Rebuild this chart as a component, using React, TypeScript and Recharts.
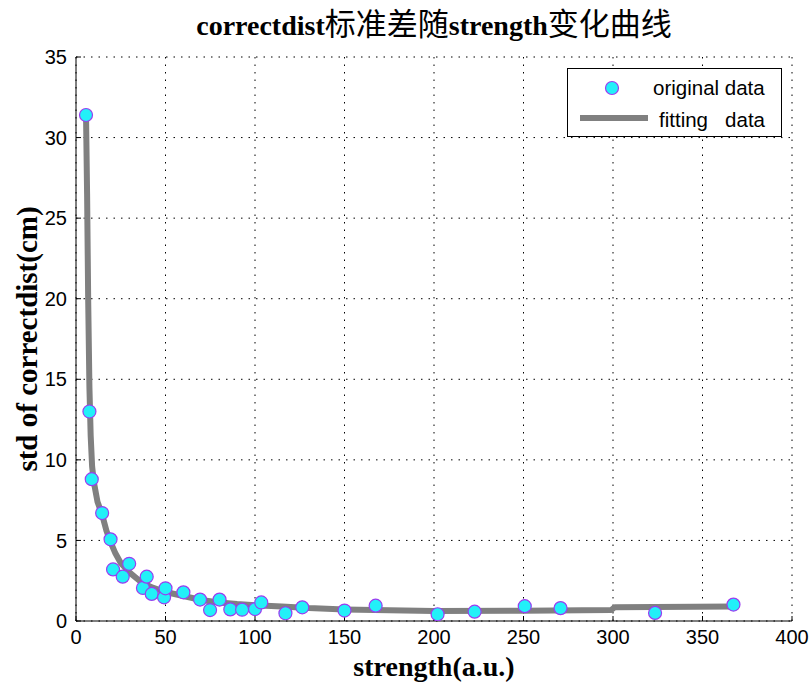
import React from 'react';
import {
  ComposedChart,
  Line,
  Scatter,
  XAxis,
  YAxis,
  CartesianGrid,
  Legend,
  Label,
} from 'recharts';

// original data points (strength, std)
const origStrength = [
  5.6, 7.5, 8.8, 14.6, 19.3, 20.7, 26.1, 29.7, 37.4, 39.5, 42.3, 49.2, 50.0, 60.0, 69.3, 74.9,
  80.2, 86.2, 92.8, 100.0, 103.5, 117.0, 126.4, 150.0, 167.4, 202.0, 222.7, 250.7, 270.7, 323.5, 367.3,
];
const origStd = [
  31.4, 13.0, 8.8, 6.7, 5.07, 3.2, 2.75, 3.55, 2.05, 2.75, 1.68, 1.47, 2.03, 1.78, 1.33, 0.68,
  1.33, 0.72, 0.7, 0.74, 1.15, 0.48, 0.85, 0.65, 0.95, 0.42, 0.58, 0.92, 0.8, 0.5, 1.02,
];

// fitted curve (strength, std)
const fitStrength = [
  5.6, 6.2, 6.8, 7.5, 8.2, 9, 10, 12, 14.6, 17, 19.3, 22, 25, 30, 36, 42, 50, 60, 70, 80, 90,
  100, 115, 130, 150, 175, 200, 250, 299, 301, 367.3,
];
const fitStd = [
  31.4, 26.5, 20, 14.5, 11.5, 9.6, 8.6, 7.4, 6.6, 5.6, 4.9, 4.2, 3.6, 3.0, 2.45, 2.1, 1.8, 1.55,
  1.3, 1.15, 1.05, 0.98, 0.9, 0.8, 0.72, 0.66, 0.62, 0.64, 0.68, 0.86, 0.9,
];

const xTicks = [0, 50, 100, 150, 200, 250, 300, 350, 400];
const yTicks = [0, 5, 10, 15, 20, 25, 30, 35];

const titleParts = [
  { text: 'correctdist', cjk: false },
  { text: '标准差随', cjk: true },
  { text: 'strength', cjk: false },
  { text: '变化曲线', cjk: true },
];
const xLabel = 'strength(a.u.)';
const yLabel = 'std of correctdist(cm)';
const legendOriginal = 'original data';
const legendFitting = 'fitting   data';

const origData = origStrength.map((x, i) => ({ x, y: origStd[i] }));
const fitData = fitStrength.map((x, i) => ({ x, y: fitStd[i] }));

const TICK_FONT = { fontFamily: '"Liberation Sans", Arial, sans-serif', fontSize: 20, fill: '#000' };
const SERIF = '"Liberation Serif", "Times New Roman", serif';

const MARKER_FILL = '#22f0f8';
const MARKER_STROKE = '#9a3cf0';
const FIT_COLOR = '#808080';

const MarkerShape = (props: any) => {
  const { cx, cy } = props;
  if (cx == null || cy == null) return null;
  return <circle cx={cx} cy={cy} r={6.5} fill={MARKER_FILL} stroke={MARKER_STROKE} strokeWidth={1.2} />;
};

const LegendBox = () => (
  <div
    style={{
      position: 'relative',
      width: 215,
      height: 69,
      border: '1px solid #000',
      background: '#fff',
      boxSizing: 'border-box',
      fontFamily: '"Liberation Sans", Arial, sans-serif',
      fontSize: 20.5,
      color: '#000',
    }}
  >
    <svg width={215} height={69} style={{ position: 'absolute', left: 0, top: 0 }}>
      <circle cx={44} cy={19} r={6.5} fill={MARKER_FILL} stroke={MARKER_STROKE} strokeWidth={1.2} />
      <line x1={12} y1={49} x2={80} y2={49} stroke={FIT_COLOR} strokeWidth={6} />
    </svg>
    <div style={{ position: 'absolute', left: 85, top: 7, lineHeight: '24px', whiteSpace: 'pre' }}>
      {legendOriginal}
    </div>
    <div style={{ position: 'absolute', left: 91, top: 39, lineHeight: '24px', whiteSpace: 'pre' }}>
      {legendFitting}
    </div>
  </div>
);

export default function App() {
  return (
    <div style={{ position: 'absolute', left: 0, top: 0, width: 812, height: 687, background: '#fff' }}>
      <div
        style={{
          position: 'absolute',
          left: 76,
          width: 716,
          top: 4,
          textAlign: 'center',
          lineHeight: '36px',
          fontSize: 28,
          color: '#000',
          whiteSpace: 'pre',
        }}
      >
        {titleParts.map((p, i) => (
          <span
            key={i}
            style={
              p.cjk
                ? { fontFamily: '"Noto Sans CJK SC", sans-serif', fontWeight: 400, fontSize: 31 }
                : { fontFamily: SERIF, fontWeight: 700 }
            }
          >
            {p.text}
          </span>
        ))}
      </div>
      <ComposedChart
        width={812}
        height={687}
        margin={{ top: 57, right: 20, bottom: 0, left: 0 }}
        style={{ position: 'absolute', left: 0, top: 0 }}
      >
        <CartesianGrid stroke="#000" strokeDasharray="1.5 6" strokeWidth={1} />
        <XAxis
          xAxisId={0}
          type="number"
          dataKey="x"
          domain={[0, 400]}
          ticks={xTicks}
          allowDataOverflow
          height={66}
          stroke="#000"
          tickSize={-5}
          tickMargin={14}
          tick={TICK_FONT}
        >
          <Label
            value={xLabel}
            position="insideBottom"
            offset={11}
            style={{ fontFamily: SERIF, fontWeight: 700, fontSize: 28, fill: '#000' }}
          />
        </XAxis>
        <XAxis
          xAxisId="top"
          orientation="top"
          type="number"
          domain={[0, 400]}
          ticks={xTicks}
          allowDataOverflow
          height={0}
          stroke="#000"
          tickSize={-5}
          tickFormatter={() => ''}
        />
        <YAxis
          yAxisId={0}
          type="number"
          dataKey="y"
          domain={[0, 35]}
          ticks={yTicks}
          allowDataOverflow
          width={76}
          stroke="#000"
          tickSize={-5}
          tickMargin={14}
          tick={TICK_FONT}
        >
          <Label
            value={yLabel}
            angle={-90}
            position="insideLeft"
            offset={27}
            style={{ fontFamily: SERIF, fontWeight: 700, fontSize: 29, fill: '#000', textAnchor: 'middle' }}
          />
        </YAxis>
        <YAxis
          yAxisId="right"
          orientation="right"
          type="number"
          domain={[0, 35]}
          ticks={yTicks}
          allowDataOverflow
          width={0}
          stroke="#000"
          tickSize={-5}
          tickFormatter={() => ''}
        />
        <Scatter
          name={legendOriginal}
          data={origData}
          dataKey="y"
          shape={MarkerShape}
          isAnimationActive={false}
        />
        <Line
          name={legendFitting}
          data={fitData}
          dataKey="y"
          type="linear"
          stroke={FIT_COLOR}
          strokeWidth={6}
          strokeLinejoin="round"
          dot={false}
          activeDot={false}
          isAnimationActive={false}
        />
        <Legend
          layout="horizontal"
          verticalAlign="middle"
          align="center"
          content={() => <LegendBox />}
          wrapperStyle={{ position: 'absolute', left: 567, top: 68, width: 215, height: 69 }}
        />
      </ComposedChart>
    </div>
  );
}
